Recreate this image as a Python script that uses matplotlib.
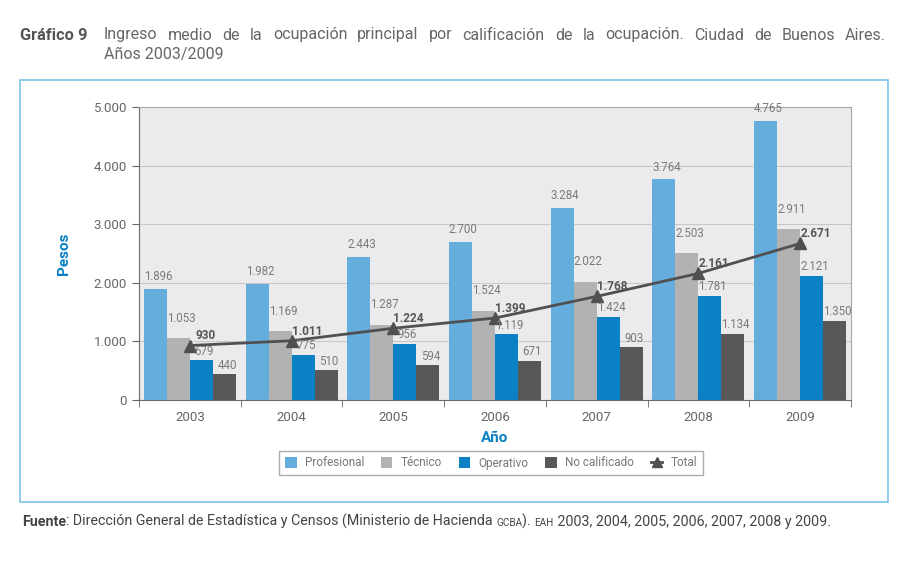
import numpy as np
import matplotlib.pyplot as plt
from matplotlib.patches import Rectangle
from matplotlib.ticker import FuncFormatter

plt.rcParams['font.family'] = ['Roboto', 'DejaVu Sans']

# datos
years = ['2003', '2004', '2005', '2006', '2007', '2008', '2009']
profesional = [1896, 1982, 2443, 2700, 3284, 3764, 4765]
tecnico = [1053, 1169, 1287, 1524, 2022, 2503, 2911]
operativo = [679, 775, 956, 1119, 1424, 1781, 2121]
no_calificado = [440, 510, 594, 671, 903, 1134, 1350]
total = [930, 1011, 1224, 1399, 1768, 2161, 2671]

series = [('Profesional', profesional, '#65addc', 12),
          ('Técnico', tecnico, '#b2b2b3', 20),
          ('Operativo', operativo, '#0a80c5', 9),
          ('No calificado', no_calificado, '#58585a', 9)]

blue = '#0a80c5'
grey_txt = '#7a7a7a'

def miles(v, pos=None):
    return f'{int(v):,}'.replace(',', '.')

fig = plt.figure(figsize=(9.07, 5.67), dpi=100)
W, H = 907, 567
ax = fig.add_axes([139 / W, 1 - 400 / H, 712 / W, 293 / H])
ax.set_facecolor('#ebebed')

x = np.arange(len(years))
bw = 0.226
for i, (name, vals, col, off) in enumerate(series):
    pos = x + (i - 1.5) * bw
    ax.bar(pos, vals, bw, color=col, label=name, zorder=2)
    for p, v in zip(pos, vals):
        ax.annotate(miles(v), (p, v), xytext=(2, off * 0.72), textcoords='offset points',
                    ha='center', va='center', fontsize=8.3, color=grey_txt, zorder=4)

ax.plot(x, total, color='#505052', lw=2, marker='^', ms=8, label='Total', zorder=3)
for p, v in zip(x, total):
    ax.annotate(miles(v), (p, v), xytext=(11, 7), textcoords='offset points',
                ha='center', va='center', fontsize=8.5, fontweight='bold', color='#555557', zorder=4)

ax.set_xlim(-0.5, len(years) - 0.5)
ax.set_ylim(0, 5000)
ax.set_yticks(range(0, 5001, 1000))
ax.yaxis.set_major_formatter(FuncFormatter(miles))
ax.grid(axis='y', color='#c8c8c8', lw=0.8, zorder=0)
ax.set_xticks(x)
ax.set_xticklabels(years)
ax.set_xticks(np.arange(-0.5, len(years)), minor=True)
ax.tick_params(axis='x', which='major', length=0, pad=8, labelsize=9.5, labelcolor='#666666')
ax.tick_params(axis='x', which='minor', length=5, color='#666666')
ax.tick_params(axis='y', length=5, color='#666666', labelsize=9.5, labelcolor='#666666')
for s in ['left', 'bottom']:
    ax.spines[s].set_color('#6a6a6a')
for s in ['top', 'right']:
    ax.spines[s].set_color('#a8a8a8')

ax.set_ylabel('Pesos', color=blue, fontweight='bold', fontsize=11, labelpad=16)
ax.set_xlabel('Año', color=blue, fontweight='bold', fontsize=11, labelpad=5)

h, l = ax.get_legend_handles_labels()
order = [1, 2, 3, 4, 0]
leg = ax.legend([h[k] for k in order], [l[k] for k in order], ncol=5, loc='center',
                bbox_to_anchor=(491 / W, 1 - 463 / H),
                bbox_transform=fig.transFigure, fontsize=8.5, frameon=True, fancybox=False,
                edgecolor='#999999', handlelength=1.0, handleheight=1.0, columnspacing=1.4,
                handletextpad=0.7, borderpad=0.5)
leg.get_frame().set_linewidth(1.0)
for t in leg.get_texts():
    t.set_color('#777777')
leg.legend_handles[4].set_markersize(7)

# marco azul
fig.patches.append(Rectangle((20 / W, 1 - 502 / H), 868 / W, 422 / H, transform=fig.transFigure,
                             fill=False, edgecolor='#7cc4ea', lw=1.2))

fig.canvas.draw()
r = fig.canvas.get_renderer()

# titulo justificado
fig.text(20 / W, 1 - 35 / H, 'Gráfico 9', fontsize=11.8, fontweight='bold', color='#555555', va='center')
line1 = 'Ingreso medio de la ocupación principal por calificación de la ocupación. Ciudad de Buenos Aires.'
words = line1.split()
tmp = [fig.text(0, 0, w, fontsize=11.5, color='#666666', va='center') for w in words]
ws = [t.get_window_extent(r).width for t in tmp]
x0, x1 = 104, 886
gap = (x1 - x0 - sum(ws)) / (len(words) - 1)
cx = x0
for t, w in zip(tmp, ws):
    t.set_position((cx / W, 1 - 35 / H))
    cx += w + gap
fig.text(104 / W, 1 - 55 / H, 'Años 2003/2009', fontsize=11.5, color='#666666', va='center')

# fuente
parts = [('Fuente', 10.3, 'bold'),
         (': Dirección General de Estadística y Censos (Ministerio de Hacienda ', 10.3, 'normal'),
         ('GCBA', 7.2, 'normal'), ('). ', 10.3, 'normal'), ('EAH', 7.2, 'normal'),
         (' 2003, 2004, 2005, 2006, 2007, 2008 y 2009.', 10.3, 'normal')]
cx = 22
for txt, fs, fw in parts:
    t = fig.text(cx / W, 1 - 526 / H, txt, fontsize=fs, fontweight=fw, color='#444444',
                 va='baseline')
    cx = t.get_window_extent(r).x1

fig.savefig('out.png', dpi=100)
